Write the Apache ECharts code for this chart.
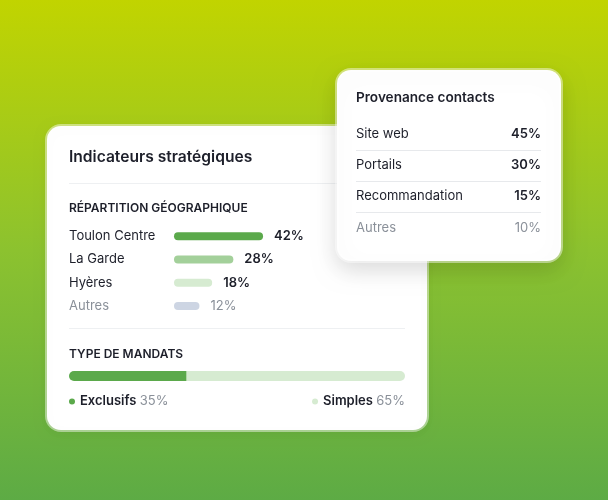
<!DOCTYPE html>
<html>
<head>
<meta charset="utf-8">
<script src="https://cdn.jsdelivr.net/npm/echarts@6/dist/echarts.min.js"></script>
<style>html,body{margin:0;padding:0;background:#8cc22f}#c{width:608px;height:500px}</style>
</head>
<body>
<div id="c"></div>
<script>
// ---- data ----
var geoCategories = ['Toulon Centre', 'La Garde', 'Hyères', 'Autres'];
var geoValues = [42, 28, 18, 12];
var mandateNames = ['Exclusifs', 'Simples'];
var mandateValues = [35, 65];
var contactSources = ['Site web', 'Portails', 'Recommandation', 'Autres'];
var contactValues = [45, 30, 15, 10];
var titleMain = 'Indicateurs stratégiques';
var titleGeo = 'RÉPARTITION GÉOGRAPHIQUE';
var titleMandate = 'TYPE DE MANDATS';
var titleContacts = 'Provenance contacts';

var FONT = 'Inter, "Noto Sans", sans-serif';
var DARK = '#1d1f2a';
var GRAY = '#8a9099';
var geoColors = ['#5ba94b', '#a3d09a', '#d6ebd1', '#cdd5e3'];
var mandateColors = ['#5ba94b', '#d6ebd1'];

var chart = echarts.init(document.getElementById('c'));

var elements = [];
elements.push({
  type: 'rect', z: -20, silent: true,
  shape: {x: 0, y: 0, width: 608, height: 500},
  style: {fill: new echarts.graphic.LinearGradient(0, 0, 0, 1, [
    {offset: 0, color: '#c1d400'},
    {offset: 0.5, color: '#8cc22f'},
    {offset: 1, color: '#5dab45'}
  ])}
});
// main card
elements.push({
  type: 'rect', z: -5, silent: true,
  shape: {x: 47, y: 126, width: 380, height: 304, r: 14},
  style: {fill: '#ffffff', stroke: 'rgba(255,255,255,0.45)', lineWidth: 4,
          shadowBlur: 12, shadowColor: 'rgba(0,0,0,0.05)', shadowOffsetY: 3}
});
elements.push({type: 'text', z: -4, silent: true, style: {x: 69, y: 157, text: titleMain, fill: DARK, font: '600 15.6px ' + FONT, textVerticalAlign: 'middle'}});
elements.push({type: 'line', z: -4, silent: true, shape: {x1: 69, y1: 183.5, x2: 405, y2: 183.5}, style: {stroke: '#eef0f2', lineWidth: 1}});
elements.push({type: 'text', z: -4, silent: true, style: {x: 69, y: 208, text: titleGeo, fill: DARK, font: '600 12px ' + FONT, textVerticalAlign: 'middle'}});
elements.push({type: 'line', z: -4, silent: true, shape: {x1: 69, y1: 328.5, x2: 405, y2: 328.5}, style: {stroke: '#eef0f2', lineWidth: 1}});
elements.push({type: 'text', z: -4, silent: true, style: {x: 69, y: 354, text: titleMandate, fill: DARK, font: '600 12px ' + FONT, textVerticalAlign: 'middle'}});

// popup card
elements.push({
  type: 'rect', z: 10, silent: true,
  shape: {x: 337, y: 70, width: 224, height: 191, r: 14},
  style: {fill: '#ffffff', stroke: 'rgba(255,255,255,0.45)', lineWidth: 4,
          shadowBlur: 22, shadowColor: 'rgba(0,0,0,0.14)', shadowOffsetY: 8}
});
elements.push({type: 'text', z: 11, silent: true, style: {x: 356, y: 98, text: titleContacts, fill: DARK, font: '600 13.6px ' + FONT, textVerticalAlign: 'middle'}});
var rowY0 = 134, rowStep = 31.2;
contactSources.forEach(function (name, i) {
  var y = rowY0 + i * rowStep;
  var isOther = i === contactSources.length - 1;
  elements.push({type: 'text', z: 11, silent: true, style: {x: 356, y: y, text: name, fill: isOther ? GRAY : DARK, font: '400 13px ' + FONT, textVerticalAlign: 'middle'}});
  elements.push({type: 'text', z: 11, silent: true, style: {x: 541, y: y, text: contactValues[i] + '%', fill: isOther ? GRAY : DARK, font: (isOther ? '400' : '600') + ' 13px ' + FONT, textAlign: 'right', textVerticalAlign: 'middle'}});
  if (!isOther) {
    var ly = Math.round(y + rowStep / 2) + 0.5;
    elements.push({type: 'line', z: 11, silent: true, shape: {x1: 356, y1: ly, x2: 541, y2: ly}, style: {stroke: '#e7e9ec', lineWidth: 1}});
  }
});

var geoData = geoValues.map(function (v, i) {
  var isOther = i === geoValues.length - 1;
  return {
    value: v,
    itemStyle: {color: geoColors[i], borderRadius: 4},
    label: {color: isOther ? GRAY : DARK, fontWeight: isOther ? 400 : 600}
  };
});

var mandateSeries = mandateNames.map(function (n, i) {
  return {
    name: n, type: 'bar', stack: 'm', xAxisIndex: 1, yAxisIndex: 1,
    barWidth: 10, silent: true,
    itemStyle: {color: mandateColors[i], borderRadius: i === 0 ? [5, 0, 0, 5] : [0, 5, 5, 0]},
    data: [mandateValues[i]]
  };
});

function legendFor(i, pos) {
  var l = {
    data: [mandateNames[i]], orient: 'horizontal', top: 395, padding: 0,
    icon: 'circle', itemWidth: 6, itemHeight: 6, itemGap: 0,
    selectedMode: false,
    formatter: function (name) { return '{b|' + name + '} {g|' + mandateValues[mandateNames.indexOf(name)] + '%}'; },
    textStyle: {rich: {
      b: {fontFamily: FONT, fontSize: 13, fontWeight: 600, color: DARK},
      g: {fontFamily: FONT, fontSize: 13, fontWeight: 400, color: GRAY}
    }}
  };
  Object.assign(l, pos);
  return l;
}

chart.setOption({
  animation: false,
  graphic: {elements: elements},
  grid: [
    {left: 174, top: 224.5, width: 212, height: 93},
    {left: 69, top: 371, width: 336, height: 10}
  ],
  xAxis: [
    {type: 'value', gridIndex: 0, min: 0, max: 100, show: false},
    {type: 'value', gridIndex: 1, min: 0, max: 100, show: false}
  ],
  yAxis: [
    {type: 'category', gridIndex: 0, data: geoCategories, inverse: true,
     axisLine: {show: false}, axisTick: {show: false}, splitLine: {show: false},
     axisLabel: {align: 'left', margin: 105,
       formatter: function (v, i) { return (i === geoCategories.length - 1 ? '{o|' : '{a|') + v + '}'; },
       rich: {a: {fontFamily: FONT, fontSize: 13, color: DARK}, o: {fontFamily: FONT, fontSize: 13, color: GRAY}}}},
    {type: 'category', gridIndex: 1, data: ['m'], show: false}
  ],
  legend: [legendFor(0, {left: 69}), legendFor(1, {right: 203})],
  series: [{
    type: 'bar', xAxisIndex: 0, yAxisIndex: 0, barWidth: 8, silent: true,
    data: geoData,
    label: {show: true, position: 'right', distance: 11, formatter: '{c}%',
            fontFamily: FONT, fontSize: 13}
  }].concat(mandateSeries)
});
</script>
</body>
</html>
